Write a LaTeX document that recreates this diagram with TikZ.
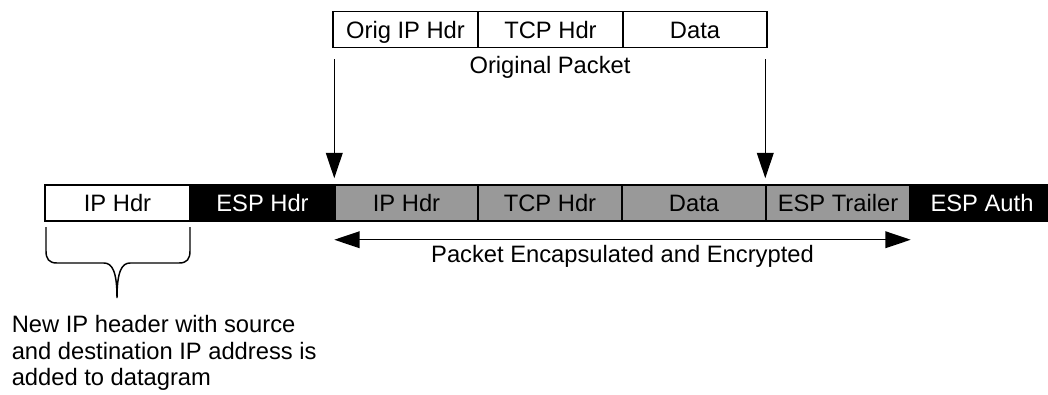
\documentclass[tikz,border=0pt]{standalone}
\usepackage{fontspec}
\setmainfont{Liberation Sans}
\usetikzlibrary{arrows.meta}
\definecolor{cellgray}{RGB}{153,153,153}
\def\px{0.75pt}
\begin{document}
\begin{tikzpicture}[x=0.75pt,y=-0.75pt,
  cell/.style={draw=black, line width=1.1pt, minimum height=36*\px, inner sep=0pt,
    text height=12.8pt, text depth=0pt, font=\fontsize{17.8}{20}\selectfont, text=black},
  plain/.style={cell, fill=white},
  dark/.style={cell, fill=black, text=white},
  shade/.style={cell, fill=cellgray},
  arr/.style={line width=1.1pt, -{Triangle[length=19pt,width=12.5pt]}},
  darr/.style={line width=1.1pt, {Triangle[length=19pt,width=12.5pt]}-{Triangle[length=19pt,width=12.5pt]}},
  lbl/.style={font=\fontsize{17.8}{20}\selectfont, inner sep=0pt, text height=12.8pt, text depth=0pt}
]
\clip (0,0) rectangle (1048,394);

% original packet
\node[plain, minimum width=145*\px] (orig) at (405.5,29.5) {Orig IP Hdr};
\node[plain, minimum width=145*\px] (tcp)  at (550.5,29.5) {TCP Hdr};
\node[plain, minimum width=144*\px] (data) at (695,29.5) {Data};
\node[lbl] (origlbl) at (550,65) {Original Packet};

% ESP tunnel-mode packet
\node[plain, minimum width=145*\px] (iphdr)   at (117.5,203) {IP Hdr};
\node[dark,  minimum width=145*\px] (esphdr)  at (262.5,203) {ESP Hdr};
\node[shade, minimum width=143*\px] (ip2)     at (406.5,203) {IP Hdr};
\node[shade, minimum width=144*\px] (tcp2)    at (550,203) {TCP Hdr};
\node[shade, minimum width=144*\px] (data2)   at (694,203) {Data};
\node[shade, minimum width=144*\px] (trailer) at (838,203) {ESP Trailer};
\node[dark,  minimum width=144*\px] (auth)    at (982,203) {ESP Auth};

% insertion arrows
\coordinate (la) at ([yshift=93.75pt]ip2.north west);
\coordinate (ra) at ([yshift=93.75pt]trailer.north west);
\draw[arr] (la) -- ([yshift=4.5pt]ip2.north west);
\draw[arr] (ra) -- ([yshift=4.5pt]trailer.north west);

% encrypted span
\draw[darr] ([yshift=-13.5pt]ip2.south west) -- ([yshift=-13.5pt]trailer.south east);
\node[lbl] (enclbl) at (622.5,254) {Packet Encapsulated and Encrypted};

% brace under the new IP header
\draw[line width=1.1pt] (46,227) -- (46,251)
  .. controls (46,259) and (49,263) .. (57,263) -- (104,263)
  .. controls (112,263) and (117,271) .. (117,298)
  .. controls (117,271) and (122,263) .. (130,263) -- (179,263)
  .. controls (187,263) and (190,259) .. (190,251) -- (190,227);

\node[anchor=north west, inner sep=0pt, align=left,
  font=\fontsize{17.8}{19.9}\selectfont] (note) at (11.5,315)
  {New IP header with source\\and destination IP address is\\added to datagram};
\end{tikzpicture}
\end{document}
